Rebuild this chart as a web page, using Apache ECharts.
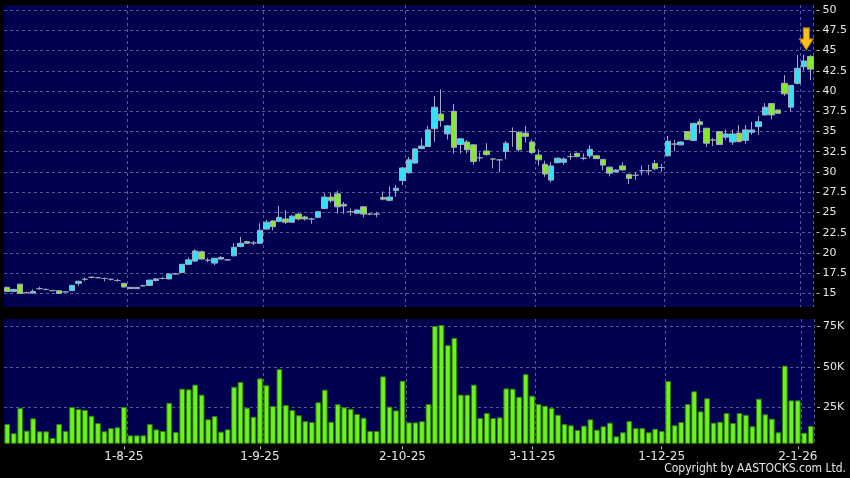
<!DOCTYPE html>
<html><head><meta charset="utf-8">
<script src="https://cdn.jsdelivr.net/npm/echarts@6/dist/echarts.min.js"></script>
<style>html,body{margin:0;padding:0;background:#000;}#c{width:850px;height:478px;}</style>
</head><body><div id="c"></div>
<script>
const dates = [
'8-7-25','9-7-25','10-7-25','11-7-25','14-7-25','15-7-25','16-7-25','17-7-25','18-7-25','21-7-25','22-7-25','23-7-25','24-7-25','25-7-25','28-7-25','29-7-25','30-7-25','31-7-25',
'1-8-25','4-8-25','5-8-25','6-8-25','7-8-25','8-8-25','11-8-25','12-8-25','13-8-25','14-8-25','15-8-25','18-8-25','19-8-25','20-8-25','21-8-25','22-8-25','25-8-25','26-8-25','27-8-25','28-8-25','29-8-25',
'1-9-25','2-9-25','3-9-25','4-9-25','5-9-25','8-9-25','9-9-25','10-9-25','11-9-25','12-9-25','15-9-25','16-9-25','17-9-25','18-9-25','19-9-25','22-9-25','23-9-25','24-9-25','25-9-25','26-9-25','29-9-25','30-9-25',
'2-10-25','3-10-25','6-10-25','8-10-25','9-10-25','10-10-25','13-10-25','14-10-25','15-10-25','16-10-25','17-10-25','20-10-25','21-10-25','22-10-25','23-10-25','24-10-25','27-10-25','28-10-25','30-10-25','31-10-25',
'3-11-25','4-11-25','5-11-25','6-11-25','7-11-25','10-11-25','11-11-25','12-11-25','13-11-25','14-11-25','17-11-25','18-11-25','19-11-25','20-11-25','21-11-25','24-11-25','25-11-25','26-11-25','27-11-25','28-11-25',
'1-12-25','2-12-25','3-12-25','4-12-25','5-12-25','8-12-25','9-12-25','10-12-25','11-12-25','12-12-25','15-12-25','16-12-25','17-12-25','18-12-25','19-12-25','22-12-25','23-12-25','24-12-25','29-12-25','30-12-25','31-12-25',
'2-1-26','5-1-26','6-1-26'
];
const opens = [
15.75,15.25,16.15,15.1,15.05,15.6,15.5,15.35,15.35,15.2,15.35,16.25,16.75,17.0,16.95,16.85,16.75,16.6,
16.25,15.75,15.6,15.95,16.0,16.6,16.85,16.8,17.4,17.6,18.6,19.0,20.15,19.1,18.75,19.25,19.15,19.65,20.8,21.4,21.25,
21.2,22.95,23.95,23.9,24.2,23.8,24.8,24.45,24.2,24.4,25.5,26.9,27.3,26.0,25.1,24.9,25.7,24.8,24.8,26.85,26.5,27.7,
28.95,29.9,31.1,32.9,33.15,35.35,37.15,34.7,37.5,33.4,33.7,33.35,31.75,32.6,31.6,31.5,32.55,35.0,34.9,34.8,
33.7,32.1,30.95,29.0,31.15,31.2,31.9,32.3,31.7,32.0,32.0,31.55,30.6,30.0,30.75,29.7,29.6,30.15,30.15,31.05,
30.55,32.0,33.45,33.35,35.0,33.9,36.2,35.4,33.95,35.0,34.3,33.7,34.8,33.9,34.9,35.6,37.05,38.45,37.65,40.95,38.0,
40.95,43.0,44.25
];
const closes = [
15.25,15.5,15.0,15.1,15.25,15.6,15.5,15.35,15.0,15.2,16.0,16.5,16.75,17.0,16.95,16.85,16.75,16.6,
15.8,15.6,15.75,15.95,16.65,16.8,16.85,17.4,17.4,18.6,19.15,20.25,19.25,19.1,19.35,19.45,19.15,20.7,21.2,21.2,21.25,
22.8,23.8,23.25,24.4,23.8,24.55,24.2,24.2,24.2,25.1,26.9,26.45,25.7,25.8,25.1,25.3,24.8,24.8,24.8,26.65,26.9,28.0,
30.5,31.5,32.85,33.2,35.2,38.0,36.35,35.7,33.05,34.1,32.75,31.3,31.75,32.15,31.6,31.5,33.55,35.0,32.75,34.4,
32.4,31.5,29.75,30.75,31.7,31.6,31.9,31.9,31.7,32.8,31.65,30.85,29.85,30.25,30.25,29.2,29.6,30.15,30.15,30.4,
30.55,33.8,33.45,33.7,34.0,36.0,35.85,33.55,33.95,33.4,34.7,34.7,33.75,35.2,35.2,36.2,38.0,37.05,37.25,39.65,40.7,
42.8,43.7,42.7
];
const lows = [
15.15,15.15,14.95,15.0,15.0,15.45,15.4,15.3,14.95,15.15,15.3,15.95,16.5,16.85,16.85,16.5,16.6,16.45,
15.75,15.55,15.55,15.85,15.95,16.5,16.75,16.75,17.35,17.55,18.5,18.9,19.2,18.85,18.5,19.2,19.05,19.6,20.7,21.1,20.95,
21.15,22.9,22.8,23.8,23.6,23.7,24.0,24.0,23.6,24.3,25.4,26.2,24.9,24.85,24.6,24.8,24.4,24.65,24.4,26.5,26.4,26.95,
28.4,29.8,31.0,32.8,33.1,33.75,35.6,34.0,32.3,32.3,32.3,30.9,31.3,32.0,30.45,30.0,31.6,33.1,32.5,33.65,
32.2,30.8,29.4,28.7,31.05,30.9,31.5,31.8,31.45,31.7,31.6,30.25,29.45,29.95,30.2,28.5,29.0,29.6,29.6,30.2,
30.05,31.9,32.55,33.3,33.95,33.8,34.75,33.1,33.2,33.35,33.95,33.35,33.65,33.5,34.6,34.6,36.95,36.5,37.2,39.4,37.45,
40.8,42.5,41.35
];
const highs = [
15.85,15.6,16.2,15.2,15.5,15.85,15.6,15.45,15.4,15.3,16.05,16.6,17.0,17.1,17.05,16.95,16.85,16.8,
16.3,15.8,15.8,16.1,16.7,16.9,17.05,17.5,17.55,18.65,19.45,20.45,20.3,19.4,19.4,19.6,19.25,21.2,22.0,21.5,21.5,
23.65,24.1,24.05,25.8,25.3,24.65,24.9,24.6,24.35,25.2,27.35,27.4,27.65,26.3,25.5,25.4,25.8,24.95,25.1,27.6,28.2,28.4,
30.6,31.85,32.95,34.15,35.7,39.4,40.2,35.8,38.4,34.2,33.95,33.45,32.4,33.55,31.75,31.6,33.85,35.5,35.05,35.7,
34.0,32.8,31.4,31.2,31.8,31.8,32.35,32.4,32.3,33.3,32.1,31.6,30.65,30.3,31.2,29.75,30.0,30.8,30.9,31.5,
31.0,34.45,33.95,33.8,35.05,36.1,36.55,35.45,34.2,35.05,35.25,35.25,35.8,35.8,36.2,36.9,38.5,38.5,37.7,41.95,40.75,
44.45,44.5,44.45
];
// volume in thousands of shares
const volumes = [
14.7,9.0,24.6,10.6,18.2,10.2,10.2,6.1,14.7,10.4,25.2,23.9,23.4,19.8,15.3,10.2,12.2,12.7,
25.2,7.7,7.7,7.7,14.7,11.4,10.4,27.8,9.8,36.5,36.1,39.0,32.8,17.6,19.6,10.0,11.4,37.7,40.6,24.8,19.2,
42.9,38.6,25.8,48.6,26.4,23.3,20.1,16.5,15.9,28.1,35.9,16.1,26.9,25.0,24.1,20.9,18.6,10.4,10.4,44.1,25.4,23.1,
41.4,15.7,15.7,16.4,27.0,75.2,75.8,63.4,67.9,32.8,32.8,39.0,18.4,21.5,18.4,18.8,36.7,36.5,31.5,45.5,
32.2,27.0,26.0,24.6,20.4,14.7,13.9,11.0,13.7,17.6,11.2,13.3,15.5,7.1,9.6,16.5,12.2,12.2,9.6,11.8,
10.4,41.2,13.9,15.9,27.0,34.9,22.5,30.6,15.5,16.1,21.5,15.3,21.5,20.4,13.3,30.3,20.7,18.0,9.6,50.7,29.3,
29.3,9.3,13.5
];
const tickLabels = ['1-8-25','1-9-25','2-10-25','3-11-25','1-12-25','2-1-26'];
const priceTicks = [15,17.5,20,22.5,25,27.5,30,32.5,35,37.5,40,42.5,45,47.5,50];
const volumeTicks = [25,50,75];

const candleData = dates.map((d, i) => [opens[i], closes[i], lows[i], highs[i]]);
const last = dates.length - 1;
const gridLine = { show: true, lineStyle: { color: '#5a5a96', type: [3, 3], width: 1 } };
const isLabel = (i) => tickLabels.indexOf(dates[i]) >= 0;
const isSplit = (i) => i > 0 && tickLabels.indexOf(dates[i - 1]) >= 0;
const fontY = { color: '#e6e6e6', fontSize: 11, fontFamily: 'DejaVu Sans' };

const chart = echarts.init(document.getElementById('c'), null, { renderer: 'canvas' });
chart.setOption({
  animation: false,
  backgroundColor: '#000',
  grid: [
    { left: 4, top: 5, width: 810, height: 302, show: true, backgroundColor: '#000050', borderWidth: 0 },
    { left: 4, top: 319, width: 810, height: 124.3, show: true, backgroundColor: '#000050', borderWidth: 0 }
  ],
  xAxis: [
    { type: 'category', gridIndex: 0, data: dates, boundaryGap: true,
      axisLine: { show: false }, axisTick: { show: false }, axisLabel: { show: false },
      splitLine: Object.assign({ interval: (i) => isSplit(i) }, gridLine) },
    { type: 'category', gridIndex: 1, data: dates, boundaryGap: true, offset: 3,
      axisLine: { show: false },
      axisTick: { show: true, alignWithLabel: true, length: 3, interval: (i) => isLabel(i), lineStyle: { color: '#bbbbbb' } },
      axisLabel: { show: true, interval: (i) => isLabel(i), margin: 5, color: '#e6e6e6', fontSize: 12, fontFamily: 'DejaVu Sans' },
      splitLine: Object.assign({ interval: (i) => isSplit(i) }, gridLine) }
  ],
  yAxis: [
    { type: 'value', gridIndex: 0, position: 'right', offset: 3, min: 13.33, max: 50.62, scale: true,
      axisLine: { show: false },
      axisTick: { show: true, length: 3, customValues: priceTicks, lineStyle: { color: '#bbbbbb' } },
      axisLabel: { show: true, margin: 6, customValues: priceTicks, formatter: (v) => String(v), ...fontY },
      splitLine: gridLine },
    { type: 'value', gridIndex: 1, position: 'right', offset: 3, min: 2.8, max: 79.5,
      axisLine: { show: false },
      axisTick: { show: true, length: 3, customValues: volumeTicks, lineStyle: { color: '#bbbbbb' } },
      axisLabel: { show: true, margin: 6, customValues: volumeTicks, formatter: (v) => v + 'K', ...fontY },
      splitLine: gridLine }
  ],
  series: [
    { type: 'candlestick', xAxisIndex: 0, yAxisIndex: 0, data: candleData, barWidth: 6,
      itemStyle: { color: '#30e2f4', color0: '#84ea2a', borderColor: '#a3abc4', borderColor0: '#a3abc4', borderColorDoji: '#a0a0b2', borderWidth: 1 },
      markPoint: {
        silent: true, animation: false,
        symbol: 'path://M4,0L10,0L10,11L14,11L7,22L0,11L4,11Z',
        symbolSize: [14, 22], symbolKeepAspect: false, symbolOffset: [-4, -16],
        itemStyle: { color: '#f4c21c', borderColor: '#b87a00', borderWidth: 1 },
        label: { show: false },
        data: [{ coord: [dates[last], highs[last]] }]
      }
    },
    { type: 'bar', xAxisIndex: 1, yAxisIndex: 1, data: volumes, barWidth: '88%',
      itemStyle: { color: '#6ef21c', borderColor: '#2f7f0e', borderWidth: 1 } }
  ],
  graphic: [
    { type: 'text', right: 4, bottom: 3,
      style: { text: 'Copyright by AASTOCKS.com Ltd.', fill: '#e6e6e6', font: '12px "DejaVu Sans Condensed", "Liberation Sans Narrow", "DejaVu Sans"' } }
  ]
});
</script></body></html>
